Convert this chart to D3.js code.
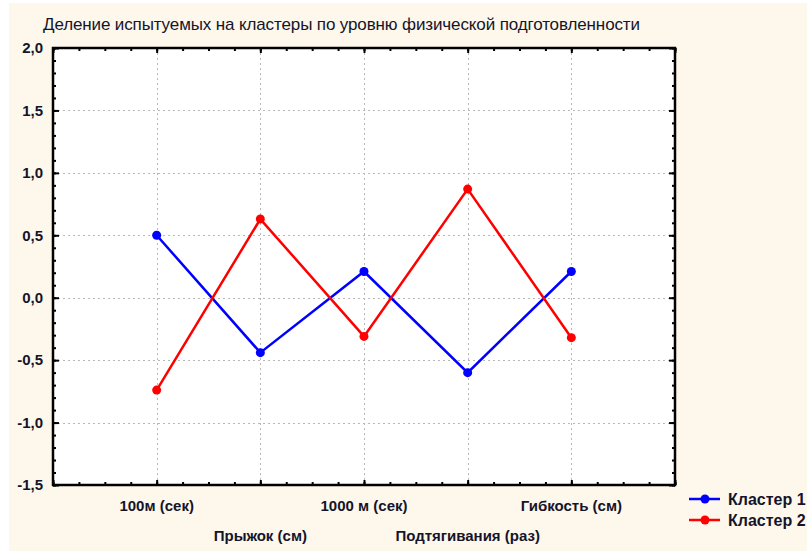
<!DOCTYPE html>
<html>
<head>
<meta charset="utf-8">
<script src="https://cdn.jsdelivr.net/npm/d3@7"></script>
<style>
  html, body { margin: 0; padding: 0; background: #fff; }
  svg { display: block; }
</style>
</head>
<body>
<svg id="chart" width="807" height="551"></svg>
<script>
// cluster profiles (z-scores) per test
const categories = ["100м (сек)", "Прыжок (см)", "1000 м (сек)", "Подтягивания (раз)", "Гибкость (см)"];
const cluster1 = [0.50, -0.44, 0.21, -0.60, 0.21];
const cluster2 = [-0.74, 0.63, -0.31, 0.87, -0.32];
const seriesNames = ["Кластер 1", "Кластер 2"];
const seriesColors = ["#0000ff", "#ff0000"];
const yTicks = [-1.5, -1.0, -0.5, 0.0, 0.5, 1.0, 1.5, 2.0];
const title = "Деление испытуемых на кластеры по уровню физической подготовленности";

const series = [cluster1, cluster2];
const svg = d3.select("#chart");
const W = 807, H = 551;
const m = { left: 53, top: 48, right: 675, bottom: 485 };
const font = "Arial, 'Liberation Sans', sans-serif";

// cream panel
svg.append("rect").attr("x", 9).attr("y", 3).attr("width", W - 9).attr("height", H - 3).attr("fill", "#fef8ec");

const x = d3.scaleLinear().domain([0, categories.length + 1]).range([m.left, m.right]);
const y = d3.scaleLinear().domain([-1.5, 2.0]).range([m.bottom, m.top]);

svg.append("rect")
  .attr("x", m.left).attr("y", m.top)
  .attr("width", m.right - m.left).attr("height", m.bottom - m.top)
  .attr("fill", "#fff");

// dotted grid
const grid = svg.append("g").attr("stroke", "#b8b8b8").attr("stroke-width", 1).attr("stroke-dasharray", "2,3");
grid.selectAll("line.h").data(yTicks.slice(1, -1)).join("line")
  .attr("x1", m.left).attr("x2", m.right)
  .attr("y1", (d) => Math.round(y(d)) + 0.5).attr("y2", (d) => Math.round(y(d)) + 0.5);
grid.selectAll("line.v").data(categories).join("line")
  .attr("y1", m.top).attr("y2", m.bottom)
  .attr("x1", (d, i) => Math.round(x(i + 1)) + 0.5).attr("x2", (d, i) => Math.round(x(i + 1)) + 0.5);

// frame ticks (all inward)
const minorY = d3.range(-15, 21).map((v) => v / 10);
const minorX = d3.range(0, (categories.length + 1) * 4 + 1).map((v) => v / 4);
const tickAxes = [
  [d3.axisLeft(y).tickValues(minorY), m.left, 0, 3],
  [d3.axisRight(y).tickValues(minorY), m.right, 0, 3],
  [d3.axisLeft(y).tickValues(yTicks), m.left, 0, 6],
  [d3.axisRight(y).tickValues(yTicks), m.right, 0, 6],
  [d3.axisTop(x).tickValues(minorX), 0, m.top, 3],
  [d3.axisBottom(x).tickValues(minorX), 0, m.bottom, 3],
  [d3.axisTop(x).tickValues(d3.range(0, categories.length + 2)), 0, m.top, 5],
  [d3.axisBottom(x).tickValues(d3.range(0, categories.length + 2)), 0, m.bottom, 5],
];
tickAxes.forEach(([ax, tx, ty, len]) => {
  const g = svg.append("g").attr("transform", `translate(${tx},${ty})`)
    .call(ax.tickSize(-len).tickFormat(""));
  g.select(".domain").remove();
  g.selectAll("line").attr("stroke", "#000").attr("stroke-width", 2);
});

svg.append("rect")
  .attr("x", m.left).attr("y", m.top)
  .attr("width", m.right - m.left).attr("height", m.bottom - m.top)
  .attr("fill", "none").attr("stroke", "#000").attr("stroke-width", 2.5);

// y labels
const yAxis = svg.append("g").attr("transform", `translate(${m.left},0)`)
  .call(d3.axisLeft(y).tickValues(yTicks).tickSize(0).tickPadding(10)
    .tickFormat((d) => d3.format(".1f")(d).replace(".", ",").replace("−", "-")));
yAxis.select(".domain").remove();
yAxis.selectAll("text")
  .attr("font-family", font)
  .attr("font-size", 15).attr("font-weight", "bold").attr("fill", "#14142a");

// x labels, staggered
svg.append("g").selectAll("text").data(categories).join("text")
  .attr("x", (d, i) => x(i + 1))
  .attr("y", (d, i) => (i % 2 === 0 ? 511 : 541))
  .attr("text-anchor", "middle")
  .attr("font-family", font)
  .attr("font-size", 15).attr("font-weight", "bold").attr("fill", "#14142a")
  .text((d) => d);

// title
svg.append("text")
  .attr("x", 43).attr("y", 30)
  .attr("textLength", 597).attr("lengthAdjust", "spacing")
  .attr("font-family", font)
  .attr("font-size", 17).attr("fill", "#14142a")
  .text(title);

// lines + markers
const line = d3.line().x((d, i) => x(i + 1)).y((d) => y(d));
series.forEach((vals, s) => {
  svg.append("path").datum(vals)
    .attr("d", line).attr("fill", "none")
    .attr("stroke", seriesColors[s]).attr("stroke-width", 2.5);
  svg.append("g").selectAll("circle").data(vals).join("circle")
    .attr("cx", (d, i) => x(i + 1)).attr("cy", (d) => y(d))
    .attr("r", 4.5).attr("fill", seriesColors[s]);
});

// legend
const legend = svg.append("g");
seriesNames.forEach((name, s) => {
  const ly = 499 + s * 21;
  legend.append("line").attr("x1", 689).attr("x2", 720).attr("y1", ly).attr("y2", ly)
    .attr("stroke", seriesColors[s]).attr("stroke-width", 2.5);
  legend.append("circle").attr("cx", 705).attr("cy", ly).attr("r", 4.5).attr("fill", seriesColors[s]);
  legend.append("text").attr("x", 728).attr("y", ly + 5.5)
    .attr("font-family", font)
    .attr("font-size", 16).attr("font-weight", "bold").attr("fill", "#14142a")
    .text(name);
});
</script>
</body>
</html>
